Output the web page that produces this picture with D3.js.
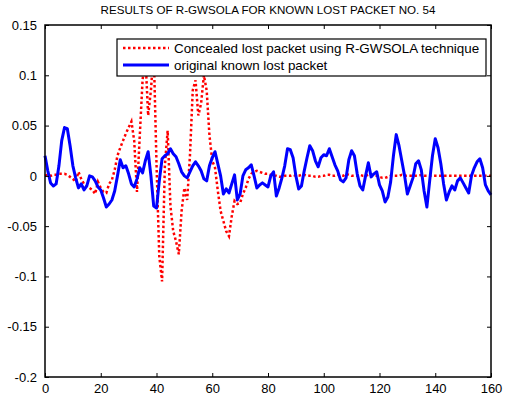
<!DOCTYPE html>
<html>
<head>
<meta charset="utf-8">
<script src="https://cdn.jsdelivr.net/npm/d3@7"></script>
<style>
body { margin: 0; background: #fff; }
text { font-family: "Liberation Sans", Arial, sans-serif; }
</style>
</head>
<body>
<script>
// samples 0..160
var concealed = [
	0, 0.001, 0, 0.001, 0.001, 0.002, 0.002, 0.002, 0.001, -0.001,
	-0.003, -0.006, 0.004, -0.003, -0.008, -0.011, -0.012, -0.014, -0.018, -0.006,
	-0.012, -0.016, -0.017, -0.008, -0.004, 0.006, 0.02, 0.028, 0.035, 0.042,
	0.048, 0.054, 0.035, -0.016, 0.04, 0.095, 0.12, 0.06, 0.085, 0.125,
	0.012, -0.08, -0.105, 0.01, 0.045, -0.03, -0.055, -0.065, -0.078, -0.035,
	-0.012, -0.024, 0.02, 0.085, 0.095, 0.06, 0.072, 0.1, 0.085, 0.04,
	0.015, 0.008, -0.015, -0.035, -0.045, -0.055, -0.06, -0.04, -0.025, -0.028,
	-0.027, -0.018, -0.012, -0.003, 0.002, 0.004, 0.005, 0.004, 0.003, 0.002,
	0.002, 0.001, 0, 0, -0.001, -0.001, 0, 0, 0, 0.001,
	0, 0, 0.001, 0.001, 0, 0, 0, -0.001, -0.001, 0,
	0, 0.001, 0.001, 0, 0, 0.001, 0, 0, 0.002, 0.001,
	0, 0, 0, 0.001, 0, 0, 0.001, 0.001, 0, 0,
	-0.001, -0.002, -0.002, -0.001, 0, 0, 0, 0, 0.001, 0,
	0, 0, 0, 0, 0, 0.001, 0, 0, 0, 0,
	0, 0, 0, 0, 0, 0, 0, 0, 0, 0,
	0, 0, 0, 0, 0, 0, 0, 0, 0, 0,
	0
];

var original = [
	0.02, 0.005, -0.007, -0.01, -0.008, 0.01, 0.035, 0.048, 0.047, 0.03,
	0.01, -0.002, -0.012, -0.008, -0.014, -0.01, 0, -0.001, -0.005, -0.011,
	-0.014, -0.022, -0.031, -0.028, -0.024, -0.015, 0, 0.016, 0.008, 0.01,
	0.002, -0.008, -0.011, -0.003, 0.008, 0.003, 0.015, 0.024, 0, -0.03,
	-0.032, -0.005, 0.017, 0.02, 0.022, 0.027, 0.022, 0.019, 0.012, 0.004,
	0, -0.002, 0.004, 0.01, 0.014, 0.01, 0.005, -0.003, -0.005, 0.01,
	0.018, 0.024, 0.012, 0, -0.018, -0.013, -0.017, -0.008, 0.001, -0.024,
	-0.018, 0, 0.006, 0.008, 0.011, 0, -0.012, -0.009, -0.007, -0.009,
	-0.011, 0, 0.004, -0.02, -0.012, -0.002, 0.01, 0.027, 0.026, 0.018,
	0, -0.013, -0.01, 0.005, 0.018, 0.03, 0.025, 0.015, 0.009, 0.018,
	0.021, 0.02, 0.027, 0.019, 0.011, 0.005, -0.004, -0.006, -0.002, 0.016,
	0.025, 0.02, 0.002, -0.01, -0.014, 0, 0.013, -0.001, 0.002, 0.004,
	-0.009, -0.015, -0.026, -0.021, -0.006, 0.02, 0.041, 0.03, 0.015, 0,
	-0.018, -0.01, -0.002, 0.012, 0.015, 0.006, -0.015, -0.031, -0.005, 0.02,
	0.037, 0.028, 0.012, -0.008, -0.024, -0.016, -0.01, -0.014, -0.005, -0.002,
	-0.007, -0.012, -0.017, 0, 0.008, 0.014, 0.017, 0.008, -0.009, -0.015,
	-0.019
];

var xTicks = [0, 20, 40, 60, 80, 100, 120, 140, 160];
var yTicks = [-0.2, -0.15, -0.1, -0.05, 0, 0.05, 0.1, 0.15];
var legendLabels = ['Concealed lost packet using R-GWSOLA technique', 'original known lost packet'];
var title = 'RESULTS OF R-GWSOLA FOR KNOWN LOST PACKET NO. 54';

var width = 505, height = 401;
var plotLeft = 45, plotRight = 491, plotTop = 25, plotBottom = 377;

var svg = d3.select('body').append('svg')
	.attr('width', width).attr('height', height);

var x = d3.scaleLinear().domain([0, 160]).range([plotLeft, plotRight]);
var y = d3.scaleLinear().domain([-0.2, 0.15]).range([plotBottom, plotTop]);

var line = d3.line()
	.x(function (d, i) { return x(i); })
	.y(function (d) { return y(d); });

var plot = svg.append('g');

plot.append('path')
	.datum(concealed)
	.attr('fill', 'none')
	.attr('stroke', '#ff0000')
	.attr('stroke-width', 2.5)
	.attr('stroke-dasharray', '2.5,2.5')
	.attr('d', line);

plot.append('path')
	.datum(original)
	.attr('fill', 'none')
	.attr('stroke', '#0000ff')
	.attr('stroke-width', 3)
	.attr('stroke-linejoin', 'round')
	.attr('d', line);

// axes, ticks pointing inward on all four sides
function styleAxis(g) {
	g.select('.domain').remove();
	g.selectAll('line').attr('stroke', '#000');
	g.selectAll('text').attr('fill', '#000').style('font-size', '13px');
}

svg.append('g')
	.attr('transform', 'translate(0,' + plotBottom + ')')
	.call(d3.axisBottom(x).tickValues(xTicks).tickSize(-4).tickPadding(7)
		.tickFormat(d3.format('d')))
	.call(styleAxis);

svg.append('g')
	.attr('transform', 'translate(0,' + plotTop + ')')
	.call(d3.axisTop(x).tickValues(xTicks).tickSize(-4).tickFormat(''))
	.call(styleAxis);

svg.append('g')
	.attr('transform', 'translate(' + plotLeft + ',0)')
	.call(d3.axisLeft(y).tickValues(yTicks).tickSize(-4).tickPadding(8)
		.tickFormat(function (d) { return String(+d.toFixed(2)); }))
	.call(styleAxis);

svg.append('g')
	.attr('transform', 'translate(' + plotRight + ',0)')
	.call(d3.axisRight(y).tickValues(yTicks).tickSize(-4).tickFormat(''))
	.call(styleAxis);

svg.append('rect')
	.attr('x', plotLeft).attr('y', plotTop)
	.attr('width', plotRight - plotLeft).attr('height', plotBottom - plotTop)
	.attr('fill', 'none').attr('stroke', '#000').attr('stroke-width', 1.5);

svg.append('text')
	.attr('x', (plotLeft + plotRight) / 2).attr('y', 14)
	.attr('text-anchor', 'middle')
	.style('font-size', '11.6px')
	.text(title);

// legend
var legend = svg.append('g').attr('transform', 'translate(117,39)');
legend.append('rect')
	.attr('width', 369).attr('height', 37)
	.attr('fill', '#fff').attr('stroke', '#000').attr('stroke-width', 1.2);

var styles = [
	{ color: '#ff0000', dash: '2.5,2.5', w: 2.5 },
	{ color: '#0000ff', dash: null, w: 3 }
];
legendLabels.forEach(function (label, i) {
	var yy = 9 + i * 17;
	legend.append('line')
		.attr('x1', 6).attr('x2', 52).attr('y1', yy).attr('y2', yy)
		.attr('stroke', styles[i].color)
		.attr('stroke-width', styles[i].w)
		.attr('stroke-dasharray', styles[i].dash);
	legend.append('text')
		.attr('x', 57).attr('y', yy + 5)
		.style('font-size', '13.4px')
		.text(label);
});
</script>
</body>
</html>
